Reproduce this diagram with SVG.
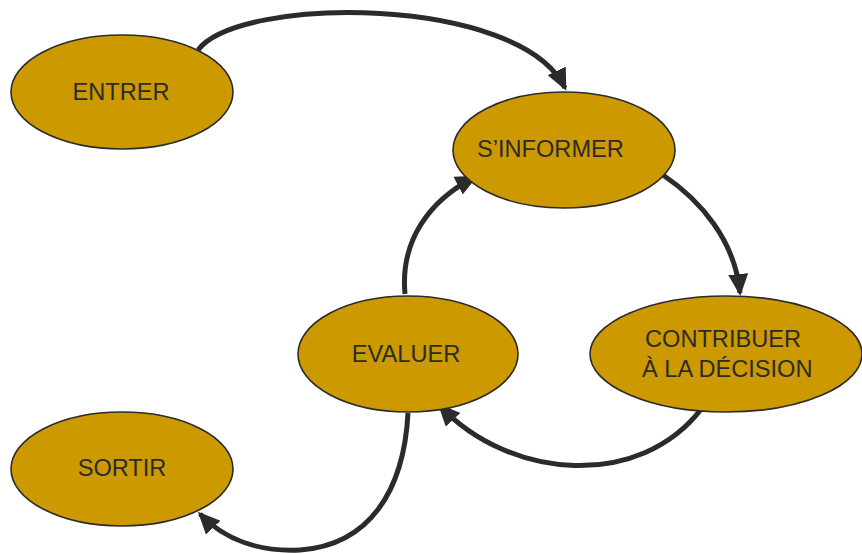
<svg xmlns="http://www.w3.org/2000/svg" width="862" height="554" viewBox="0 0 862 554">
<style>
.node{fill:#CC9900;stroke:#2b2b2b;stroke-width:1.6}
.lbl{font-family:"Liberation Sans",Arial,sans-serif;font-size:23.6px;fill:#2b2b2b}
.edge{fill:none;stroke:#2b2b2b;stroke-width:5;marker-end:url(#arr)}
</style>
<defs>
<marker id="arr" markerUnits="userSpaceOnUse" viewBox="0 0 22 20" markerWidth="22" markerHeight="20" refX="19" refY="10" orient="auto">
<path d="M0,0 L22,10 L0,20 z" fill="#2b2b2b"/>
</marker>
</defs>
<g id="connectors">
<path class="edge" d="M198,50 C240,-5 520,-5 565,88"/>
<path class="edge" d="M663,175 C700,200 735,240 740,293"/>
<path class="edge" d="M702,408 C640,490 510,480 440,406"/>
<path class="edge" d="M405,294 C400,240 430,200 475,177"/>
<path class="edge" d="M408,413 C404,490 370,545 300,550 C260,552 225,540 200,514"/>
</g>
<g id="entrer">
<ellipse class="node" cx="122" cy="92" rx="111" ry="57"/>
<text class="lbl" x="121" y="100" text-anchor="middle">ENTRER</text>
</g>
<g id="sinformer">
<ellipse class="node" cx="564" cy="150" rx="111" ry="58"/>
<text class="lbl" x="477" y="157">S’INFORMER</text>
</g>
<g id="evaluer">
<ellipse class="node" cx="408" cy="354" rx="110" ry="58"/>
<text class="lbl" x="406" y="362" text-anchor="middle">EVALUER</text>
</g>
<g id="contribuer">
<ellipse class="node" cx="726" cy="354" rx="136" ry="58"/>
<text class="lbl" x="645" y="347">CONTRIBUER</text>
<text class="lbl" x="642" y="377">À LA DÉCISION</text>
</g>
<g id="sortir">
<ellipse class="node" cx="122" cy="469" rx="111" ry="57"/>
<text class="lbl" x="122" y="476" text-anchor="middle">SORTIR</text>
</g>
</svg>
